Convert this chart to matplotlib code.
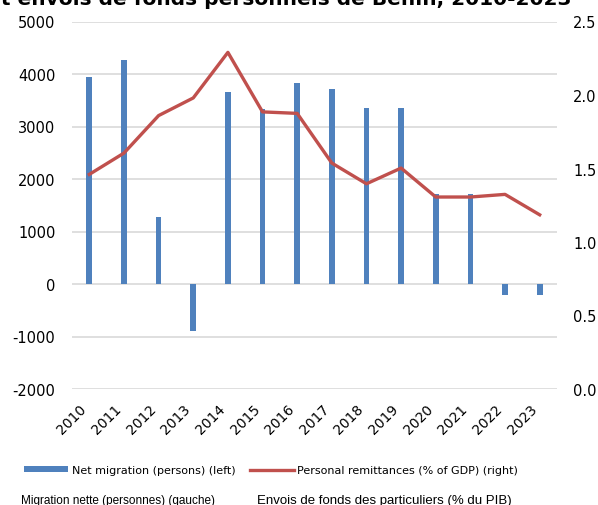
import matplotlib
matplotlib.use("Agg")
import matplotlib.pyplot as plt
from matplotlib import font_manager
import numpy as np

# Data
years = ["2010", "2011", "2012", "2013", "2014", "2015", "2016",
         "2017", "2018", "2019", "2020", "2021", "2022", "2023"]
net_migration = [3950, 4270, 1270, -900, 3660, 3340, 3820,
                 3710, 3350, 3350, 1720, 1720, -200, -200]
remittances = [1.46, 1.605, 1.86, 1.98, 2.29, 1.885, 1.875,
               1.537, 1.396, 1.503, 1.306, 1.306, 1.324, 1.185]

left_ticks = [-2000, -1000, 0, 1000, 2000, 3000, 4000, 5000]
right_ticks = [0.0, 0.5, 1.0, 1.5, 2.0, 2.5]

title = "Migration nette et envois de fonds personnels de Bénin, 2010-2023"
legend_labels = ["Net migration (persons) (left)",
                 "Personal remittances (% of GDP) (right)"]
note_left = "Migration nette (personnes) (gauche)"
note_right = "Envois de fonds des particuliers (% du PIB)"

blue = "#4F81BD"
red = "#C0504D"
grid_grey = "#D9D9D9"

# narrow font for the french notes, if it is there
names = {f.name for f in font_manager.fontManager.ttflist}
narrow = "Liberation Sans Narrow" if "Liberation Sans Narrow" in names else "Liberation Sans"

plt.rcParams["font.family"] = "DejaVu Sans"

fig = plt.figure(figsize=(5.98, 5.06), dpi=100)
ax = fig.add_axes([72 / 598, 1 - 390 / 506, 485 / 598, 367.5 / 506])
ax2 = ax.twinx()

x = np.arange(len(years))
bars = ax.bar(x, net_migration, width=0.165, color=blue, zorder=2)
line, = ax2.plot(x, remittances, color=red, lw=2.4, zorder=3)

ax.set_xlim(-0.5, len(years) - 0.5)
ax.set_ylim(-2000, 5000)
ax.set_yticks(left_ticks)
ax.set_yticklabels([str(t) for t in left_ticks])
ax2.set_ylim(0, 2.5)
ax2.set_yticks(right_ticks)
ax2.set_yticklabels(["%.1f" % t for t in right_ticks])

ax.grid(axis="y", color=grid_grey, lw=1.2, zorder=0)
ax.set_axisbelow(True)
for a in (ax, ax2):
    for s in a.spines.values():
        s.set_visible(False)
ax.tick_params(axis="y", length=0, pad=12, labelsize=10.5)
ax2.tick_params(axis="y", length=0, pad=11.5, labelsize=10.5)
ax.tick_params(axis="x", length=0, pad=16)
ax.set_xticks(x)
ax.set_xticklabels(years, rotation=45, ha="right", va="bottom",
                   rotation_mode="anchor", fontsize=10)

fig.text(571 / 598, 1 - 5 / 506, title, ha="right", va="baseline",
         fontsize=14.5, weight="bold")

fig.legend([bars, line], legend_labels, loc="center", ncol=2,
           bbox_to_anchor=(271 / 598, 1 - 471 / 506), frameon=False,
           fontsize=8, handlelength=4.0, handleheight=0.45,
           columnspacing=1.3, handletextpad=0.3, borderpad=0)

fig.text(21 / 598, 1 - 501 / 506, note_left, ha="left", va="center",
         fontsize=8.5, family=narrow)
fig.text(257 / 598, 1 - 501 / 506, note_right, ha="left", va="center",
         fontsize=9.5, family=narrow)

fig.savefig("out.png", dpi=100)
